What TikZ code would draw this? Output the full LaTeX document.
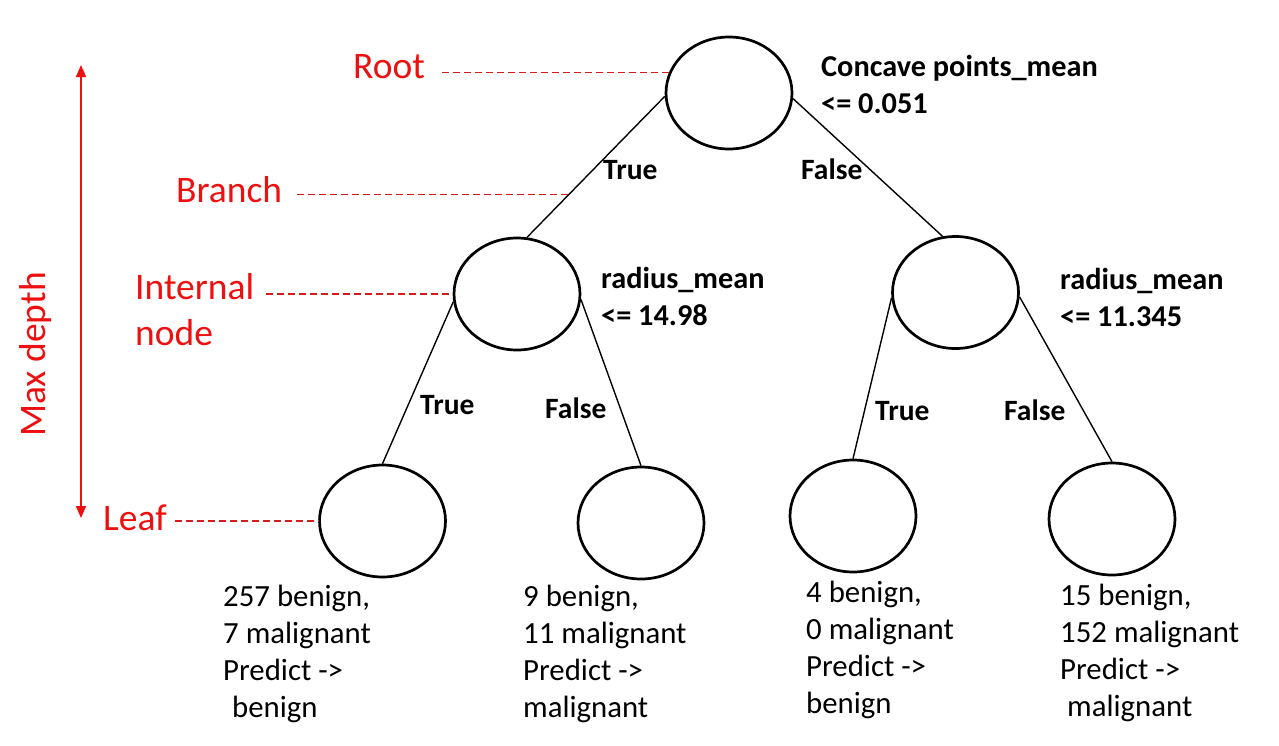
\documentclass[tikz,border=0pt]{standalone}
\usepackage{fontspec}
\setmainfont{Carlito}
\usetikzlibrary{shapes.geometric,arrows.meta,calc}
\definecolor{lblred}{RGB}{238,16,16}
\definecolor{dashred}{RGB}{212,28,28}
\begin{document}
\begin{tikzpicture}[x=1pt,y=-1pt,
  tnode/.style={ellipse,draw,line width=2.7pt,minimum width=126pt,minimum height=112pt,inner sep=0pt},
  edge/.style={line width=1.4pt},
  cond/.style={font=\fontsize{30.3}{37}\selectfont\bfseries,anchor=base west,inner sep=0pt,align=left},
  tf/.style={font=\fontsize{29.5}{33}\selectfont\bfseries,anchor=base west,inner sep=0pt},
  leaftext/.style={font=\fontsize{30.8}{37}\selectfont,anchor=base west,inner sep=0pt,align=left},
  redlbl/.style={font=\fontsize{37.5}{46}\selectfont,text=lblred,anchor=base west,inner sep=0pt,align=left},
  guide/.style={dashred,line width=1.5pt,dash pattern=on 7pt off 4pt}]
\useasboundingbox (0,0) rectangle (1279,745);

% tree nodes
\node[tnode] (root) at (729,93) {};
\node[tnode] (il) at (517,294) {};
\node[tnode] (ir) at (955.5,292.5) {};
\node[tnode] (leaf1) at (382.5,521) {};
\node[tnode] (leaf2) at (641,523) {};
\node[tnode] (leaf3) at (853,516) {};
\node[tnode] (leaf4) at (1112,519) {};

% connectors
\draw[edge] (root.183) -- (il.80) coordinate[pos=0.697] (brpt);
\draw[edge] (root.355) -- (ir.103);
\draw[edge] (il.187) -- (leaf1.90);
\draw[edge] (il.355) -- (leaf2.90);
\draw[edge] (ir.185) -- (leaf3.90);
\draw[edge] (ir.356) -- (leaf4.90);

% condition labels (anchored at last baseline)
\node[cond] (c0) at (821,113) {Concave points\_mean\\<= 0.051};
\node[cond] (c1) at (601,325) {radius\_mean\\<= 14.98};
\node[cond] (c2) at (1060,326) {radius\_mean\\<= 11.345};

% True / False labels
\node[tf] (t0) at (603,179) {True};
\node[tf] (f0) at (801,179) {False};
\node[tf] (t1) at (420,414) {True};
\node[tf] (f1) at (545,418) {False};
\node[tf] (t2) at (875,420) {True};
\node[tf] (f2) at (1004,420) {False};

% leaf texts (anchored at last baseline)
\node[leaftext] (l1) at (223,717) {257 benign,\\7 malignant\\Predict ->\\\hspace*{9pt}benign};
\node[leaftext] (l2) at (523,717) {9 benign,\\11 malignant\\Predict ->\\malignant};
\node[leaftext] (l3) at (806,713) {4 benign,\\0 malignant\\Predict ->\\benign};
\node[leaftext] (l4) at (1060,716) {15 benign,\\152 malignant\\Predict ->\\\hspace*{7pt}malignant};

% red annotation labels
\node[redlbl] (rootlbl) at (353,78) {Root};
\node[redlbl] (branchlbl) at (176,202) {Branch};
\node[redlbl] (intlbl) at (135,345) {Internal\\node};
\node[redlbl] (leaflbl) at (103,530) {Leaf};
\node[redlbl,rotate=90] (mdlbl) at (45,437) {Max depth};

% dashed guides
\draw[guide] ($(root.161 -| rootlbl.east)+(17,0)$) -- (root.161);
\draw[guide] ($(brpt -| branchlbl.east)+(15,0)$) -- (brpt);
\draw[guide] ($(il.west -| intlbl.east)+(12,0)$) -- (il.west);
\draw[guide] ($(leaf1.west -| leaflbl.east)+(8,0)$) -- (leaf1.west);

% max depth arrow
\coordinate (mdtop) at (81,65);
\coordinate (mdbot) at (81,518);
\draw[lblred,line width=1.6pt,{Triangle[length=12pt,width=10pt]}-{Triangle[length=12pt,width=10pt]}] (mdtop) -- (mdbot);
\end{tikzpicture}
\end{document}
